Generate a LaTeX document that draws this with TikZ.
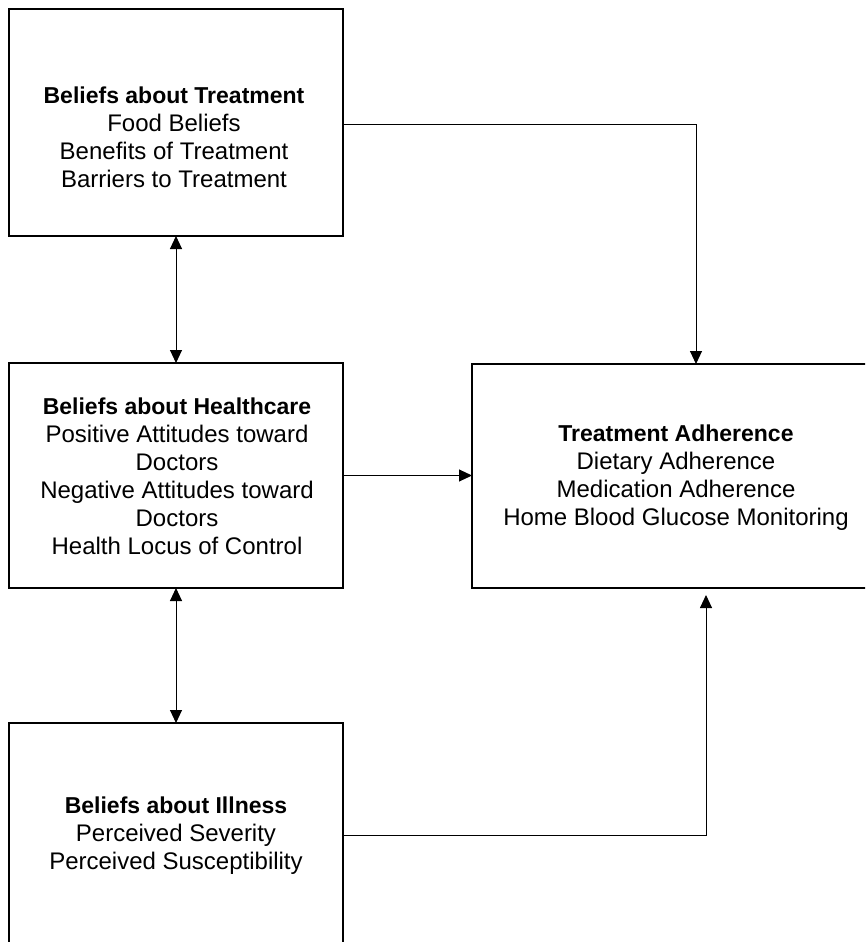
\documentclass[tikz,border=0pt]{standalone}
\usepackage{fontspec}
\setmainfont{Liberation Sans}
\usetikzlibrary{arrows.meta}

\tikzset{
  box/.style={draw=black, line width=1.2pt, fill=none, inner sep=0pt, outer sep=0pt},
  boxtext/.style={align=center, inner sep=0pt, font=\fontsize{24}{28}\selectfont},
  link/.style={draw=black, line width=1pt},
  tip/.style={-{Triangle[length=13pt, width=12pt]}},
  twotip/.style={{Triangle[length=13pt, width=12pt]}-{Triangle[length=13pt, width=12pt]}},
}
\newcommand{\heading}[1]{{\fontsize{23}{28}\selectfont\bfseries #1}}

\begin{document}
\begin{tikzpicture}[x=1pt, y=-1pt]
  \useasboundingbox (0,0) rectangle (865,942);
  \clip (0,0) rectangle (865,942);
  \fill[white] (0,0) rectangle (865,942);

  % boxes
  \node[box, minimum width=334pt, minimum height=227pt] (b1) at (176,122.5) {};
  \node[box, minimum width=334pt, minimum height=225pt] (b2) at (176,475.5) {};
  \node[box, minimum width=420pt, minimum height=224pt] (b3) at (682,476) {};
  \node[box, minimum width=334pt, minimum height=250pt] (b4) at (176,848) {};

  % texts
  \node[boxtext] (t1) at (174,137) {\heading{Beliefs about Treatment}\\Food Beliefs\\Benefits of Treatment\\Barriers to Treatment};
  \node[boxtext] (t2) at (177,476) {\heading{Beliefs about Healthcare}\\Positive Attitudes toward\\Doctors\\Negative Attitudes toward\\Doctors\\Health Locus of Control};
  \node[boxtext] (t3) at (676,477.5) {\heading{Treatment Adherence}\\Dietary Adherence\\Medication Adherence\\Home Blood Glucose Monitoring};
  \node[boxtext] (t4) at (176,836) {\heading{Beliefs about Illness}\\Perceived Severity\\Perceived Susceptibility};

  % connectors
  \coordinate (c1) at (696,124);
  \coordinate (c4) at (706,835);
  \draw[link, tip] (b1.east |- c1) -- (c1) -- (c1 |- b3.north);
  \draw[link, tip] (b2.east) -- (b3.west |- b2.east);
  \draw[link, twotip] (b1.south) -- (b2.north);
  \draw[link, twotip] (b2.south) -- (b4.north);
  \draw[link, tip, shorten >=7pt] (b4.east |- c4) -- (c4) -- (c4 |- b3.south);
\end{tikzpicture}
\end{document}
